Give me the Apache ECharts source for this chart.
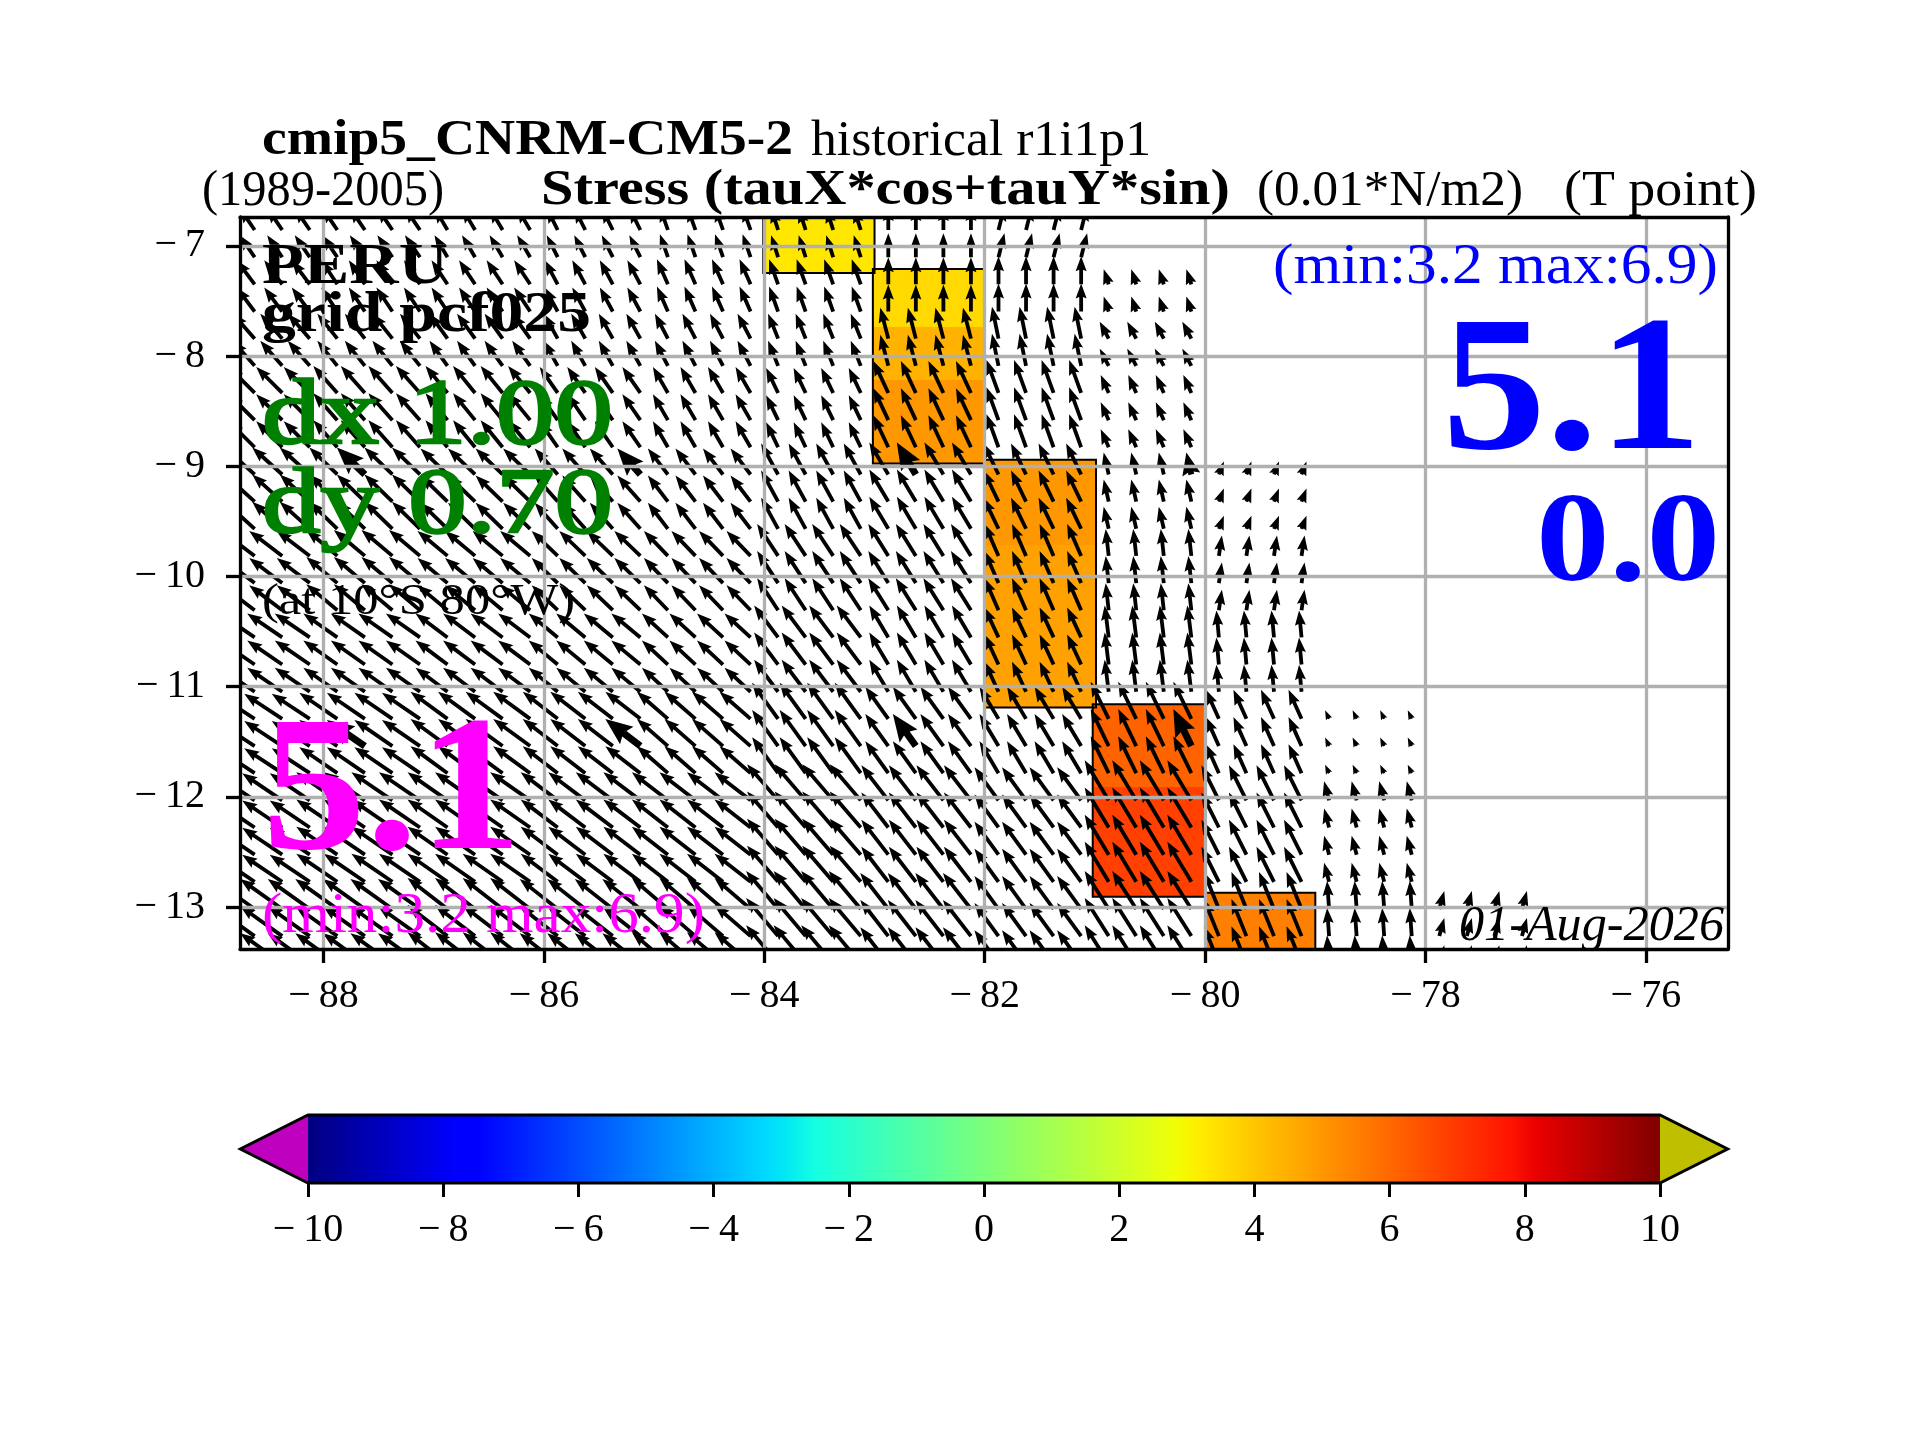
<!DOCTYPE html>
<html><head><meta charset="utf-8">
<style>html,body{margin:0;padding:0;background:#fff}#c{width:1920px;height:1440px}</style>
<script src="https://cdn.jsdelivr.net/npm/echarts@6/dist/echarts.min.js"></script>
</head><body><div id="c"></div>
<script>
// ---------- axis ticks ----------
const lonTicks = [-88,-86,-84,-82,-80,-78,-76];
const latTicks = [-13,-12,-11,-10,-9,-8,-7];
const cbarTicks = [-10,-8,-6,-4,-2,0,2,4,6,8,10];

// ---------- arrow grid ----------
const blockWest = [-89,-88,-87,-86,-85,-84,-83,-82,-81,-80,-79,-78];
const lonOffsets = [0.125,0.375,0.625,0.875];
const rowLats = [-6.855,-7.102,-7.348,-7.595,-7.841,-8.088,-8.334,-8.581,-8.827,-9.074,-9.32,-9.567,-9.813,-10.06,
  -10.306,-10.553,-10.799,-11.046,-11.292,-11.539,-11.785,-12.032,-12.278,-12.525,-12.771,-13.018,-13.264,-13.511];
const rowBand = [0,0,1,1,2,2,3,3,3,4,4,4,5,5,5,6,6,6,7,7,7,8,8,8,8,9,9,9];
// stress components per longitude block (rows) and latitude band (columns)
const tauX = [
 [-3.0,-3.6,-4.4,-5.2,-6.0,-6.6,-7.0,-7.6,-8.0,-8.4],
 [-3.0,-3.2,-4.0,-4.8,-5.6,-6.2,-6.8,-7.6,-8.2,-8.4],
 [-2.6,-3.2,-3.6,-4.4,-5.4,-6.0,-6.4,-7.4,-8.0,-8.0],
 [-2.2,-2.6,-2.8,-3.6,-4.6,-5.2,-5.8,-7.0,-7.4,-7.6],
 [-1.6,-2.2,-2.6,-3.0,-4.0,-4.8,-5.2,-6.2,-7.2,-7.2],
 [-1.4,-1.8,-2.0,-2.4,-3.4,-4.2,-4.8,-5.2,-6.2,-6.4],
 [0.0,0.0,-1.6,-3.0,-3.8,-4.0,-3.8,-4.6,-5.4,-5.6],
 [1.2,0.0,-1.3,-2.4,-3.0,-2.8,-2.8,-3.8,-4.8,-4.8],
 [null,-1.0,-1.8,-1.6,-1.0,-0.6,-0.8,-3.6,-4.8,-4.8],
 [null,null,null,null,1.0,0.6,-0.5,-2.6,-3.5,-3.0],
 [null,null,null,null,null,null,null,-0.8,-1.0,-0.4],
 [null,null,null,null,null,null,null,null,null,1.0]
];
const tauY = [
 [4.4,4.8,5.0,5.2,5.4,5.0,4.8,5.0,5.4,6.0],
 [4.4,4.8,5.0,5.4,5.4,5.2,4.8,5.2,5.6,6.0],
 [4.4,4.8,5.0,5.4,5.2,5.0,4.8,5.4,5.6,6.2],
 [4.4,4.8,5.0,5.2,5.2,5.0,4.8,5.4,5.6,6.0],
 [4.6,5.0,5.0,5.2,5.2,5.0,4.8,5.4,5.6,6.2],
 [4.4,5.0,5.0,5.0,6.2,6.4,6.4,7.2,7.2,7.6],
 [4.8,5.4,6.2,6.4,6.4,6.4,6.4,6.4,7.0,7.2],
 [4.8,5.6,6.4,6.6,6.2,6.4,6.0,6.4,6.6,6.6],
 [null,3.0,3.4,3.6,4.4,5.4,6.4,7.4,8.0,7.6],
 [null,null,null,null,2.6,4.1,5.4,5.8,7.0,7.4],
 [null,null,null,null,null,null,null,1.7,3.8,5.6],
 [null,null,null,null,null,null,null,null,null,3.6]
];
const boldLons = [-87.625,-85.125,-82.625,-80.125];
const boldLats = [-9.074,-11.539];

// ---------- coloured coastal cells: lon0, lon1, latTop, latBottom, value ----------
const cellLon0 = [-84.01,-83.015,-83.015,-83.015,-82,-82,-81.02,-81.02,-80];
const cellLon1 = [-83,-82,-82,-82,-80.99,-80.99,-80,-80,-79];
const cellTop  = [-6.5,-7.21,-7.735,-8.216,-8.94,-9.713,-11.16,-11.91,-12.87];
const cellBot  = [-7.245,-7.735,-8.216,-8.975,-9.713,-11.19,-11.91,-12.907,-13.6];
const cellVal  = [3.3,3.6,4.4,5.0,5.0,4.8,6.1,6.85,5.5];
// outlines of the coloured columns
const outlineLon0 = [-84.01,-83.015,-82,-81.02,-80];
const outlineLon1 = [-83,-82,-80.99,-80,-79];
const outlineTop  = [-6.5,-7.21,-8.94,-11.16,-12.87];
const outlineBot  = [-7.245,-8.975,-11.19,-12.907,-13.6];

const jetKnots = [0,0.11,0.125,0.34,0.35,0.375,0.64,0.65,0.66,0.89,0.91,1];

function seg(t,pts){for(let i=1;i<pts.length;i++){if(t<=pts[i][0]){const a=pts[i-1],b=pts[i];return a[1]+(b[1]-a[1])*(t-a[0])/(b[0]-a[0]);}}return pts[pts.length-1][1];}
function jet(t){
  t=Math.max(0,Math.min(1,t));
  const r=seg(t,[[0,0],[.35,0],[.66,1],[.89,1],[1,.5]]),
        g=seg(t,[[0,0],[.125,0],[.375,1],[.64,1],[.91,0],[1,0]]),
        b=seg(t,[[0,.5],[.11,1],[.34,1],[.65,0],[1,0]]);
  return 'rgb('+Math.round(r*255)+','+Math.round(g*255)+','+Math.round(b*255)+')';
}
const valColor=v=>jet((v+10)/20);

const arrowData=[];
blockWest.forEach((w,b)=>{lonOffsets.forEach(o=>{rowLats.forEach((lat,k)=>{
  const g=rowBand[k],u=tauX[b][g],v=tauY[b][g];
  if(u===null)return;
  const lon=w+o;
  const bold=(boldLons.indexOf(lon)>=0&&boldLats.indexOf(lat)>=0)?1:0;
  arrowData.push([lon,lat,u,v,bold]);
});});});
const cellData=cellVal.map((v,i)=>[cellLon0[i],cellTop[i],cellLon1[i],cellBot[i],v]);
const outlineData=outlineLon0.map((v,i)=>[v,outlineTop[i],outlineLon1[i],outlineBot[i]]);

const QUIVER_PX=5;
function renderArrow(params,api){
  const p=api.coord([api.value(0),api.value(1)]);
  const ux=api.value(2)*QUIVER_PX,uy=-api.value(3)*QUIVER_PX,bold=api.value(4);
  const L=Math.hypot(ux,uy);if(L<0.01)return null;
  const ax=ux/L,ay=uy/L,bx=-ay,by=ax;
  let w=bold?7:3.8,hw=bold?22:11,hl=bold?27:15,hal=bold?24:13.5;
  if(L<hl){const s=L/hl;w*=s;hw*=s;hl*=s;hal*=s;}
  const local=[[0,w/2],[L-hal,w/2],[L-hl,hw/2],[L,0],[L-hl,-hw/2],[L-hal,-w/2],[0,-w/2]];
  return {type:'polygon',shape:{points:local.map(q=>[p[0]+ax*q[0]+bx*q[1],p[1]+ay*q[0]+by*q[1]])},style:{fill:'#000'}};
}
function renderCell(params,api){
  const a=api.coord([api.value(0),api.value(1)]),b=api.coord([api.value(2),api.value(3)]);
  return {type:'rect',shape:{x:a[0],y:a[1],width:b[0]-a[0],height:b[1]-a[1]},style:{fill:valColor(api.value(4))}};
}
function renderOutline(params,api){
  const a=api.coord([api.value(0),api.value(1)]),b=api.coord([api.value(2),api.value(3)]);
  return {type:'rect',shape:{x:a[0],y:a[1],width:b[0]-a[0],height:b[1]-a[1]},style:{fill:'none',stroke:'#000',lineWidth:2}};
}

const FONT='"Liberation Serif"';
const meas=document.createElement('canvas').getContext('2d');
function fit(text,left,right,baseline,size,opts){
  opts=opts||{};
  const weight=opts.weight||'normal',style=opts.style||'normal',color=opts.color||'#000';
  meas.font=style+' '+weight+' '+size+'px '+FONT;
  const sx=(right-left)/meas.measureText(text).width;
  const st={text:text,fontFamily:FONT,fontSize:size,fontWeight:weight,fontStyle:style,fill:color,
      align:'left',verticalAlign:'middle'};
  if(opts.thick){st.stroke=color;st.lineWidth=opts.thick;}
  return {type:'text',x:left,y:baseline-(size>=58?0.28:0.23)*size,scaleX:sx,z:100,silent:true,style:st};
}
const minus=v=>String(v).replace('-','\u2212\u2009');
const tickLabel={fontFamily:FONT,fontSize:40,color:'#000'};
const GREEN='#008000',MAG='#ff00ff',BLUE='#0000ff';

const option={
  animation:false,backgroundColor:'#fff',
  grid:[
    {left:240,top:217,width:1488,height:732,containLabel:false},
    {left:308,top:1115,width:1352,height:68,containLabel:false}
  ],
  xAxis:[
    {type:'value',gridIndex:0,min:-88.758,max:-75.255,position:'bottom',z:5,
     axisLine:{show:true,onZero:false,lineStyle:{color:'#000',width:3.3}},
     axisTick:{show:true,customValues:lonTicks,length:14,lineStyle:{color:'#000',width:3.3}},
     axisLabel:{show:true,customValues:lonTicks,formatter:minus,margin:27,...tickLabel},
     splitLine:{show:true,lineStyle:{color:'#b0b0b0',width:3.3}}},
    {type:'value',gridIndex:0,min:-88.758,max:-75.255,position:'top',z:6,
     axisLine:{show:true,onZero:false,lineStyle:{color:'#000',width:3.3}},
     axisTick:{show:false},axisLabel:{show:false},splitLine:{show:false}},
    {type:'value',gridIndex:1,min:-10,max:10,interval:2,position:'bottom',z:6,
     axisLine:{show:false},
     axisTick:{show:true,length:14,lineStyle:{color:'#000',width:3}},
     axisLabel:{show:true,formatter:minus,margin:27,...tickLabel},
     splitLine:{show:false}}
  ],
  yAxis:[
    {type:'value',gridIndex:0,min:-13.381,max:-6.737,position:'left',z:5,
     axisLine:{show:true,onZero:false,lineStyle:{color:'#000',width:3.3}},
     axisTick:{show:true,customValues:latTicks,length:14,lineStyle:{color:'#000',width:3.3}},
     axisLabel:{show:true,customValues:latTicks,formatter:minus,margin:35,padding:[10,0,0,0],...tickLabel},
     splitLine:{show:true,lineStyle:{color:'#b0b0b0',width:3.3}}},
    {type:'value',gridIndex:0,min:-13.381,max:-6.737,position:'right',z:6,
     axisLine:{show:true,onZero:false,lineStyle:{color:'#000',width:3.3}},
     axisTick:{show:false},axisLabel:{show:false},splitLine:{show:false}},
    {type:'value',gridIndex:1,min:0,max:1,show:false}
  ],
  series:[
    {type:'custom',name:'cells',xAxisIndex:0,yAxisIndex:0,coordinateSystem:'cartesian2d',clip:true,z:2,
     encode:{x:[0,2],y:[1,3]},data:cellData,renderItem:renderCell},
    {type:'custom',name:'outlines',xAxisIndex:0,yAxisIndex:0,coordinateSystem:'cartesian2d',clip:true,z:3,
     encode:{x:[0,2],y:[1,3]},data:outlineData,renderItem:renderOutline},
    {type:'custom',name:'stress',xAxisIndex:0,yAxisIndex:0,coordinateSystem:'cartesian2d',clip:true,z:4,
     encode:{x:0,y:1},data:arrowData,renderItem:renderArrow},
    {type:'custom',name:'colorbar',xAxisIndex:2,yAxisIndex:2,coordinateSystem:'cartesian2d',z:4,silent:true,
     data:[[-10,0]],encode:{x:0,y:1},
     renderItem:function(params,api){
       const a=api.coord([-10,1]),b=api.coord([10,0]),l=api.coord([-11,0.5]),r=api.coord([11,0.5]);
       const gradient=new echarts.graphic.LinearGradient(0,0,1,0,jetKnots.map(t=>({offset:t,color:jet(t)})));
       return {type:'group',children:[
         {type:'rect',shape:{x:a[0],y:a[1],width:b[0]-a[0],height:b[1]-a[1]},style:{fill:gradient}},
         {type:'polygon',shape:{points:[[a[0],a[1]],[l[0],l[1]],[a[0],b[1]]]},style:{fill:'#bf00bf'}},
         {type:'polygon',shape:{points:[[b[0],a[1]],[r[0],r[1]],[b[0],b[1]]]},style:{fill:'#bfbf00'}},
         {type:'polygon',shape:{points:[[a[0],a[1]],[b[0],a[1]],[r[0],r[1]],[b[0],b[1]],[a[0],b[1]],[l[0],l[1]]]},
          style:{fill:'none',stroke:'#000',lineWidth:3}}
       ]};
     }}
  ],
  graphic:{elements:[
    fit('cmip5_CNRM-CM5-2',262,793,153,50,{weight:'bold'}),
    fit('historical r1i1p1',811,1151,153,50),
    fit('(1989-2005)',202,444,203,50),
    fit('Stress (tauX*cos+tauY*sin)',541,1230,203,50,{weight:'bold'}),
    fit('(0.01*N/m2)',1257,1523,203,50),
    fit('(T point)',1564,1757,203,50),
    fit('PERU',262,448,284,58,{weight:'bold'}),
    fit('grid pcf025',262,591,332,58,{weight:'bold'}),
    fit('dx 1.00',262,613,445,93,{color:GREEN,thick:2.5}),
    fit('dy 0.70',262,613,534,93,{color:GREEN,thick:2.5}),
    fit('(at 10\u00b0S 80\u00b0W)',262,575,613,44),
    fit('5.1',262,522,852,192,{weight:'bold',color:MAG}),
    fit('(min:3.2 max:6.9)',262,705,933,58,{color:MAG}),
    fit('(min:3.2 max:6.9)',1273,1718,284,58,{color:BLUE}),
    fit('5.1',1442,1702,452,192,{weight:'bold',color:BLUE}),
    fit('0.0',1536,1720,583,127,{weight:'bold',color:BLUE}),
    fit('01-Aug-2026',1459,1724,938,50,{style:'italic'})
  ]}
};
const chart=echarts.init(document.getElementById('c'),null,{renderer:'canvas',width:1920,height:1440});
chart.setOption(option);
</script></body></html>
